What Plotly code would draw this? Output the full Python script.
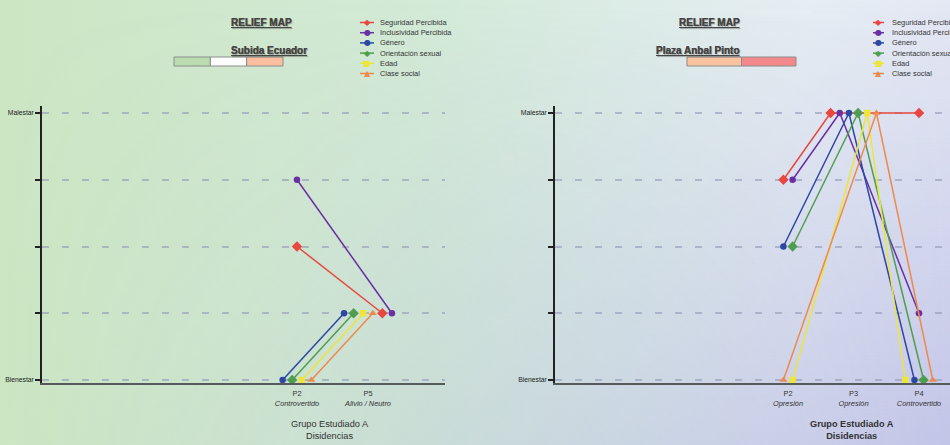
import base64
import plotly.graph_objects as go

# ---------------- data ----------------
SERIES = ["Seguridad Percibida", "Inclusividad Percibida", "Género",
          "Orientación sexual", "Edad", "Clase social"]
COLORS = ["#e8463e", "#6a2fa3", "#2d47a3", "#4f9e50", "#ede53b", "#f0894a"]
SYMBOLS = ["diamond", "circle", "circle", "diamond", "square", "triangle-up"]
GLYPHS = ["◆", "●", "●", "◆", "■", "▲"]
SIZES = [8, 6.5, 6.5, 8, 6.5, 7]

Y_TICK_VALS = [0, 1, 2, 3, 4]
Y_TICK_TEXT = ["Bienestar", "", "", "", "Malestar"]
GROUP_TITLE = "Grupo Estudiado A<br>Disidencias"

# Panel 1 : Subida Ecuador
P1_PLACE = "Subida Ecuador"
P1_CATS = ["P2", "P5"]
P1_NOTES = ["Controvertido", "Alivio / Neutro"]
P1_LEVELS = {
    "Seguridad Percibida": [2, 1],
    "Inclusividad Percibida": [3, 1],
    "Género": [0, 1],
    "Orientación sexual": [0, 1],
    "Edad": [0, 1],
    "Clase social": [0, 1],
}
P1_ORDER = [
    ["Género", "Orientación sexual", "Edad", "Clase social", "Seguridad Percibida", "Inclusividad Percibida"],
    ["Género", "Orientación sexual", "Edad", "Clase social", "Seguridad Percibida", "Inclusividad Percibida"],
]
P1_SCALE = ["#b9dcb0", "#fdfdfd", "#fbbf9f"]

# Panel 2 : Plaza Anbal Pinto
P2_PLACE = "Plaza Anbal Pinto"
P2_CATS = ["P2", "P3", "P4"]
P2_NOTES = ["Opresión", "Opresión", "Controvertido"]
P2_LEVELS = {
    "Seguridad Percibida": [3, 4, 4],
    "Inclusividad Percibida": [3, 4, 1],
    "Género": [2, 4, 0],
    "Orientación sexual": [2, 4, 0],
    "Edad": [0, 4, 0],
    "Clase social": [0, 4, 0],
}
P2_ORDER = [
    ["Clase social", "Edad", "Seguridad Percibida", "Inclusividad Percibida", "Género", "Orientación sexual"],
    ["Seguridad Percibida", "Inclusividad Percibida", "Género", "Orientación sexual", "Edad", "Clase social"],
    ["Edad", "Género", "Orientación sexual", "Clase social", "Seguridad Percibida", "Inclusividad Percibida"],
]
P2_SCALE = ["#fac39f", "#f3888a"]

# ---------------- helpers ----------------
W, H = 950, 445


def px(xp):
    return xp / W


def py(yp):
    return 1 - yp / H


def dodge(levels, order, slot):
    offs = {s: [] for s in levels}
    for j, ordj in enumerate(order):
        for s in levels:
            grp = [t for t in ordj if levels[t][j] == levels[s][j]]
            k = grp.index(s)
            offs[s].append((k - (len(grp) - 1) / 2) * slot)
    return offs


# background gradient as an svg image
svg = f'''<svg xmlns="http://www.w3.org/2000/svg" width="{W}" height="{H}" viewBox="0 0 {W} {H}" preserveAspectRatio="none">
<defs>
<linearGradient id="h" x1="0" y1="0" x2="1" y2="0">
<stop offset="0" stop-color="#cce6c3"/>
<stop offset="0.45" stop-color="#d3ead7"/>
<stop offset="0.65" stop-color="#dcece6"/>
<stop offset="0.85" stop-color="#e6edf3"/>
<stop offset="1" stop-color="#e4e8f4"/>
</linearGradient>
<linearGradient id="v" x1="0" y1="0" x2="0" y2="1">
<stop offset="0" stop-color="#9a9ad8" stop-opacity="0"/>
<stop offset="1" stop-color="#9a9ad8" stop-opacity="0.45"/>
</linearGradient>
<linearGradient id="m" x1="0" y1="0" x2="1" y2="0">
<stop offset="0" stop-color="#000"/>
<stop offset="0.3" stop-color="#333"/>
<stop offset="1" stop-color="#fff"/>
</linearGradient>
<mask id="mk"><rect width="{W}" height="{H}" fill="url(#m)"/></mask>
</defs>
<rect width="{W}" height="{H}" fill="url(#h)"/>
<rect width="{W}" height="{H}" fill="url(#v)" mask="url(#mk)"/>
</svg>'''
bg_src = "data:image/svg+xml;base64," + base64.b64encode(svg.encode()).decode()

FONT = "Liberation Sans Narrow, Arial Narrow, Liberation Sans, Arial, sans-serif"

fig = go.Figure()

panels = [
    dict(levels=P1_LEVELS, order=P1_ORDER, cats=P1_CATS, notes=P1_NOTES, place=P1_PLACE,
         scale=P1_SCALE, xa="x", ya="y", slot=0.135,
         xdom=[px(42), px(445)], xrange=[-3.592, 2.085], center=228.5,
         scale_x=[174, 283], title_x=330, title_bold=False,
         leg_line=[360, 374], leg_text=378),
    dict(levels=P2_LEVELS, order=P2_ORDER, cats=P2_CATS, notes=P2_NOTES, place=P2_PLACE,
         scale=P2_SCALE, xa="x2", ya="y2", slot=0.14,
         xdom=[px(555), 1.0], xrange=[-3.557, 2.473], center=741.5,
         scale_x=[687, 796], title_x=852, title_bold=True,
         leg_line=[873, 884], leg_text=890),
]

shapes = []
annotations = []
ydom = [0.1393, 0.7611]

for p in panels:
    offs = dodge(p["levels"], p["order"], p["slot"])
    for i, s in enumerate(SERIES):
        lv = p["levels"][s]
        xs = [j + offs[s][j] for j in range(len(lv))]
        fig.add_trace(go.Scatter(
            x=xs, y=lv, mode="lines+markers", name=s,
            xaxis=p["xa"], yaxis=p["ya"], showlegend=False,
            line=dict(color=COLORS[i], width=1.5),
            marker=dict(color=COLORS[i], symbol=SYMBOLS[i], size=SIZES[i], line=dict(width=0)),
            hoverinfo="x+y+name",
        ))

    # titles
    for yy, txt in ((15, "RELIEF MAP"), (43, p["place"])):
        annotations.append(dict(x=px(p["center"]), y=py(yy), xref="paper", yref="paper",
                                text=f"<b><u>{txt}</u></b>", showarrow=False,
                                font=dict(family=FONT, size=10, color="#454545",
                                          shadow="1px 1px 1px rgba(0,0,0,0.15)")))
    # colour scale bar
    x0, x1 = p["scale_x"]
    n = len(p["scale"])
    for k, c in enumerate(p["scale"]):
        shapes.append(dict(type="rect", xref="paper", yref="paper",
                           x0=px(x0 + (x1 - x0) * k / n), x1=px(x0 + (x1 - x0) * (k + 1) / n),
                           y0=py(66), y1=py(57), fillcolor=c,
                           line=dict(color="#8c8c8c", width=1)))
    # legend
    for i, s in enumerate(SERIES):
        yy = 22.5 + 10.2 * i
        lx0, lx1 = p["leg_line"]
        shapes.append(dict(type="line", xref="paper", yref="paper",
                           x0=px(lx0), x1=px(lx1), y0=py(yy), y1=py(yy),
                           line=dict(color=COLORS[i], width=1.5)))
        annotations.append(dict(x=px((lx0 + lx1) / 2), y=py(yy), xref="paper", yref="paper",
                                text=GLYPHS[i], showarrow=False, xanchor="center", yanchor="middle",
                                font=dict(family="DejaVu Sans", size=8, color=COLORS[i])))
        annotations.append(dict(x=px(p["leg_text"]), y=py(yy), xref="paper", yref="paper",
                                text=s, showarrow=False, xanchor="left", yanchor="middle",
                                font=dict(family=FONT, size=7.4, color="#333")))
    # axis title
    t = f"<b>{GROUP_TITLE}</b>" if p["title_bold"] else GROUP_TITLE
    annotations.append(dict(x=px(p["title_x"]), y=py(429.5), xref="paper", yref="paper",
                            text=t, showarrow=False, xanchor="center", yanchor="middle",
                            font=dict(family=FONT, size=9.2, color="#333")))

    ticktext = [f"{c}<br><i>{nt}</i>" for c, nt in zip(p["cats"], p["notes"])]
    xkey = "xaxis" if p["xa"] == "x" else "xaxis2"
    ykey = "yaxis" if p["ya"] == "y" else "yaxis2"
    fig.update_layout(**{
        xkey: dict(domain=p["xdom"], range=p["xrange"], anchor=p["ya"],
                   tickmode="array", tickvals=list(range(len(p["cats"]))), ticktext=ticktext,
                   showgrid=False, zeroline=False, showline=True,
                   linecolor="#555b5b", linewidth=2, ticks="", ticklabelstandoff=2,
                   tickfont=dict(family=FONT, size=7.4, color="#333")),
        ykey: dict(domain=ydom, range=[-0.045, 4.1], anchor=p["xa"],
                   tickmode="array", tickvals=Y_TICK_VALS, ticktext=Y_TICK_TEXT,
                   showgrid=True, gridcolor="rgba(150,158,185,0.65)", gridwidth=2,
                   griddash="7px,13px", zeroline=False,
                   showline=True, linecolor="#222", linewidth=1.5,
                   ticks="outside", ticklen=5, tickwidth=1.5, tickcolor="#222",
                   tickfont=dict(family=FONT, size=6.8, color="#222")),
    })

fig.update_layout(
    width=W, height=H, margin=dict(l=0, r=0, t=0, b=0),
    paper_bgcolor="rgba(0,0,0,0)", plot_bgcolor="rgba(0,0,0,0)",
    showlegend=False, shapes=shapes, annotations=annotations,
    images=[dict(source=bg_src, xref="paper", yref="paper", x=0, y=1,
                 sizex=1, sizey=1, sizing="stretch", layer="below", xanchor="left", yanchor="top")],
)

fig.write_html("out.html", config={"displayModeBar": False},
               post_script="document.body.style.margin='0';document.body.style.overflow='hidden';")
